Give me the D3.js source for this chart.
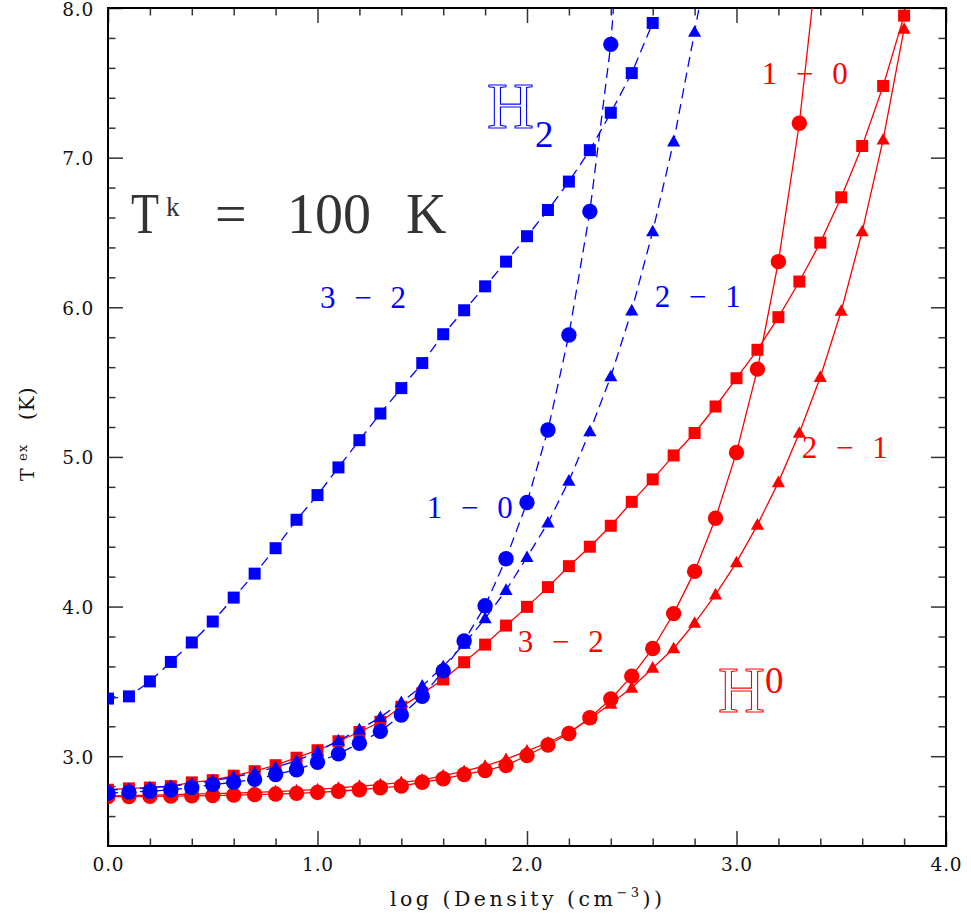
<!DOCTYPE html>
<html><head><meta charset="utf-8">
<script src="https://cdn.jsdelivr.net/npm/d3@7"></script>
<style>body{margin:0;background:#fff} svg{display:block}</style>
</head><body><svg id="c" width="971" height="920"></svg>
<script>
// ---------- data ----------
const logDensity = [0.0,0.1,0.2,0.3,0.4,0.5,0.6,0.7,0.8,0.9,1.0,1.1,1.2,1.3,1.4,1.5,1.6,1.7,1.8,1.9,
                    2.0,2.1,2.2,2.3,2.4,2.5,2.6,2.7,2.8,2.9,3.0,3.1,3.2,3.3,3.4,3.5,3.6,3.7,3.8];

// H2 (blue, dashed)
const h2_32 = [3.385,3.40,3.50,3.63,3.76,3.90,4.06,4.22,4.39,4.58,4.745,4.93,5.112,5.29,5.46,5.627,5.82,5.98,6.14,6.305,
               6.475,6.65,6.84,7.05,7.30,7.565,7.90];
const h2_10 = [2.753,2.76,2.766,2.776,2.79,2.81,2.826,2.845,2.878,2.91,2.96,3.016,3.087,3.166,3.275,3.40,3.57,3.77,4.005,4.32,
               4.695,5.18,5.815,6.64,7.757,9.7];
const h2_21 = [2.775,2.78,2.79,2.80,2.815,2.835,2.86,2.89,2.925,2.97,3.03,3.105,3.178,3.26,3.36,3.47,3.60,3.75,3.92,4.11,
               4.33,4.56,4.84,5.17,5.537,5.978,6.506,7.107,7.84,8.6];

// H0 (red, solid)
const h0_32 = [2.776,2.785,2.79,2.80,2.825,2.84,2.87,2.90,2.94,2.99,3.04,3.10,3.162,3.23,3.33,3.42,3.513,3.628,3.746,3.873,
               3.998,4.13,4.27,4.40,4.54,4.70,4.85,5.01,5.16,5.337,5.526,5.716,5.934,6.172,6.432,6.735,7.078,7.479,7.949];
const h0_10 = [2.73,2.73,2.732,2.733,2.735,2.737,2.74,2.743,2.747,2.752,2.758,2.766,2.776,2.789,2.80,2.826,2.849,2.878,2.904,2.938,
               3.005,3.075,3.152,3.257,3.382,3.535,3.72,3.953,4.235,4.59,5.03,5.587,6.305,7.23,8.5];
const h0_21 = [2.735,2.737,2.74,2.743,2.746,2.75,2.754,2.758,2.764,2.77,2.778,2.788,2.80,2.81,2.825,2.84,2.87,2.90,2.935,2.98,
               3.036,3.09,3.16,3.25,3.35,3.457,3.59,3.72,3.89,4.08,4.295,4.546,4.83,5.16,5.533,5.975,6.506,7.12,7.86];

const xMajorTicks = [0,1,2,3,4];
const xMinorTicks = [0.2,0.4,0.6,0.8,1.2,1.4,1.6,1.8,2.2,2.4,2.6,2.8,3.2,3.4,3.6,3.8];
const yMajorTicks = [3,4,5,6,7,8];
const yMinorTicks = [2.6,2.8,3.2,3.4,3.6,3.8,4.2,4.4,4.6,4.8,5.2,5.4,5.6,5.8,6.2,6.4,6.6,6.8,7.2,7.4,7.6,7.8];

const transitionLabels = [
  {text:"3 − 2", color:"blue", x:1.012, y:5.996},
  {text:"2 − 1", color:"blue", x:2.61,  y:6.003},
  {text:"1 − 0", color:"blue", x:1.522, y:4.593},
  {text:"1 − 0", color:"red",  x:3.12,  y:7.492},
  {text:"3 − 2", color:"red",  x:1.956, y:3.698},
  {text:"2 − 1", color:"red",  x:3.311, y:4.994}
];

// ---------- chart ----------
const BLUE = "#0000ff", RED = "#ff0000";
const series = [
  {v:h0_21, color:RED,  shape:"tri",  dash:null},
  {v:h0_32, color:RED,  shape:"sq",   dash:null},
  {v:h0_10, color:RED,  shape:"circ", dash:null},
  {v:h2_21, color:BLUE, shape:"tri",  dash:"10,6"},
  {v:h2_10, color:BLUE, shape:"circ", dash:"10,6"},
  {v:h2_32, color:BLUE, shape:"sq",   dash:"10,6"}
];

const L = 108, R = 946, T = 8, B = 846;
const x = d3.scaleLinear().domain([0,4]).range([L,R]);
const y = d3.scaleLinear().domain([2.4,8]).range([B,T]);
const svg = d3.select("#c");

svg.append("defs").append("clipPath").attr("id","plot")
  .append("rect").attr("x",L).attr("y",T).attr("width",R-L).attr("height",B-T);

const tickFont = "'DejaVu Serif', serif";
function styleAxis(g, labels){
  g.select(".domain").remove();
  g.selectAll(".tick line").attr("stroke","#333").attr("stroke-width",1.5);
  if(labels){
    g.selectAll(".tick text").attr("font-family",tickFont).attr("font-size",18.5)
      .attr("letter-spacing","0.8").attr("fill","#111");
  } else g.selectAll(".tick text").remove();
}
const fmt = d3.format(".1f");
// bottom
svg.append("g").attr("transform",`translate(0,${B})`)
  .call(d3.axisBottom(x).tickValues(xMajorTicks).tickSize(-15).tickPadding(12).tickFormat(fmt)).call(g=>styleAxis(g,true));
svg.append("g").attr("transform",`translate(0,${B})`)
  .call(d3.axisBottom(x).tickValues(xMinorTicks).tickSize(-7.5)).call(g=>styleAxis(g,false));
// top
svg.append("g").attr("transform",`translate(0,${T})`)
  .call(d3.axisTop(x).tickValues(xMajorTicks).tickSize(-15)).call(g=>styleAxis(g,false));
svg.append("g").attr("transform",`translate(0,${T})`)
  .call(d3.axisTop(x).tickValues(xMinorTicks).tickSize(-7.5)).call(g=>styleAxis(g,false));
// left
svg.append("g").attr("transform",`translate(${L},0)`)
  .call(d3.axisLeft(y).tickValues(yMajorTicks).tickSize(-15).tickPadding(14).tickFormat(fmt))
  .call(g=>styleAxis(g,true))
  .call(g=>g.selectAll(".tick text").attr("dy","0.38em"));
svg.append("g").attr("transform",`translate(${L},0)`)
  .call(d3.axisLeft(y).tickValues(yMinorTicks).tickSize(-7.5)).call(g=>styleAxis(g,false));
// right
svg.append("g").attr("transform",`translate(${R},0)`)
  .call(d3.axisRight(y).tickValues(yMajorTicks).tickSize(-15)).call(g=>styleAxis(g,false));
svg.append("g").attr("transform",`translate(${R},0)`)
  .call(d3.axisRight(y).tickValues(yMinorTicks).tickSize(-7.5)).call(g=>styleAxis(g,false));

// frame
svg.append("rect").attr("x",L).attr("y",T).attr("width",R-L).attr("height",B-T)
  .attr("fill","none").attr("stroke","#000").attr("stroke-width",2);

// series
const plot = svg.append("g").attr("clip-path","url(#plot)");
const line = d3.line().x(d=>x(d[0])).y(d=>y(d[1]));
const triPath = "M0,-6.8L6.6,4.8L-6.6,4.8Z";
series.forEach(s=>{
  const pts = s.v.map((v,i)=>[logDensity[i], v]);
  const g = plot.append("g");
  g.append("path").datum(pts).attr("d",line).attr("fill","none")
    .attr("stroke",s.color).attr("stroke-width",1.3)
    .attr("stroke-dasharray",s.dash);
  const m = g.selectAll(".m").data(pts).enter();
  if(s.shape==="circ"){
    m.append("circle").attr("cx",d=>x(d[0])).attr("cy",d=>y(d[1])).attr("r",7.7).attr("fill",s.color);
  } else if(s.shape==="sq"){
    m.append("rect").attr("x",d=>x(d[0])-6).attr("y",d=>y(d[1])-6).attr("width",12).attr("height",12).attr("fill",s.color);
  } else {
    m.append("path").attr("d",triPath).attr("transform",d=>`translate(${x(d[0])},${y(d[1])})`).attr("fill",s.color);
  }
});

// transition labels
const serif = "'Liberation Serif', serif";
transitionLabels.forEach(l=>{
  svg.append("text").attr("x",x(l.x)).attr("y",y(l.y))
    .attr("font-family",serif).attr("font-size",31)
    .attr("fill", l.color==="blue"?BLUE:RED)
    .attr("textLength",86).attr("lengthAdjust","spacing")
    .text(l.text);
});

// species labels (outlined H to mimic the double-stroke font)
function species(color, hx, hy, sx, sy, sub){
  const t = svg.append("g");
  t.append("text").attr("x",hx).attr("y",hy).attr("font-family",serif).attr("font-size",65)
    .attr("fill","none").attr("stroke",color).attr("stroke-width",1.1).text("H");
  t.append("text").attr("x",sx).attr("y",sy).attr("font-family",serif).attr("font-size",37)
    .attr("fill",color).text(sub);
}
species(BLUE, 487, 128, 535, 147, "2");
species(RED, 718, 712, 765, 693, "0");

// kinetic temperature label
const tk = svg.append("g").attr("font-family",serif).attr("fill","#333");
tk.append("text").attr("x",131).attr("y",233).attr("font-size",56).attr("textLength",28).attr("lengthAdjust","spacingAndGlyphs").text("T");
tk.append("text").attr("x",166).attr("y",216).attr("font-size",27).text("k");
tk.append("text").attr("x",215).attr("y",233).attr("font-size",56).text("=");
tk.append("text").attr("x",287).attr("y",233).attr("font-size",56).text("100");
tk.append("text").attr("x",406).attr("y",233).attr("font-size",56).text("K");

// axis titles
const xt = svg.append("text").attr("x",390).attr("y",906)
  .attr("font-family",tickFont).attr("font-size",20.5).attr("fill","#111")
  .attr("textLength",272).attr("lengthAdjust","spacing");
xt.append("tspan").text("log (Density (cm");
xt.append("tspan").attr("font-size",13).attr("dy",-9).text("−3");
xt.append("tspan").attr("dy",9).text("))");

const yt = svg.append("g").attr("transform","translate(34,481) rotate(-90)")
  .attr("font-family",tickFont).attr("fill","#111");
yt.append("text").attr("x",0).attr("y",0).attr("font-size",19).text("T");
yt.append("text").attr("x",20).attr("y",-7).attr("font-size",13).attr("letter-spacing","1").text("ex");
yt.append("text").attr("x",61).attr("y",0).attr("font-size",20).attr("letter-spacing","1").text("(K)");
</script>
</body></html>
